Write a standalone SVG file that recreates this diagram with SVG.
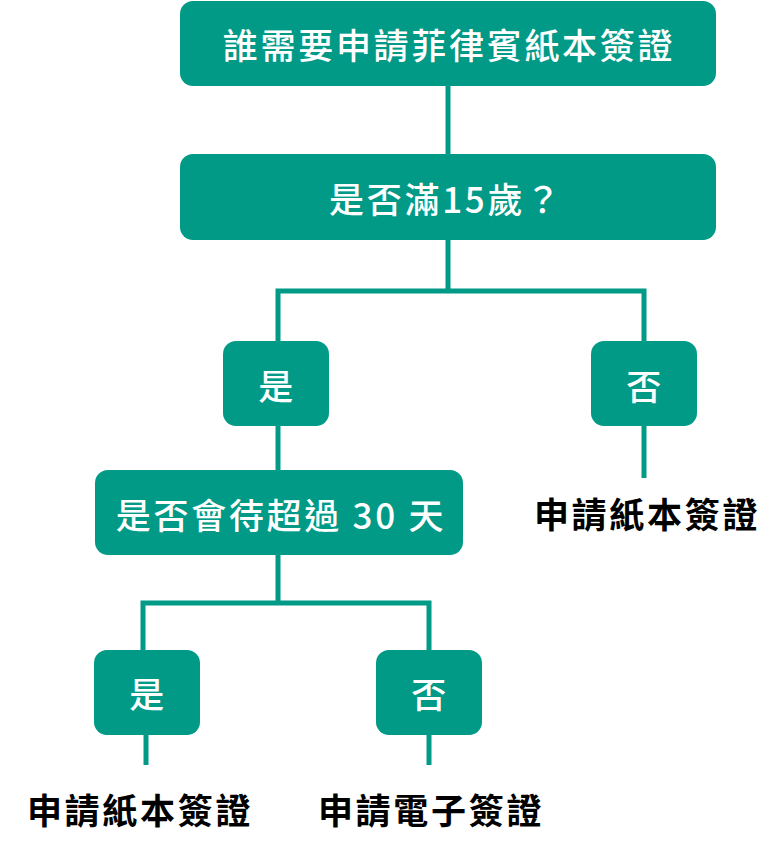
<svg xmlns="http://www.w3.org/2000/svg" width="782" height="855" viewBox="0 0 782 855">
<style>
.box{fill:#009A87}
.wt{fill:#fff;font-family:"Noto Sans CJK TC","Noto Sans CJK SC",sans-serif;font-size:35px;font-weight:500;text-anchor:middle;dominant-baseline:central;letter-spacing:2.7px}
.bt{fill:#000;font-family:"Noto Sans CJK TC","Noto Sans CJK SC",sans-serif;font-size:35px;font-weight:700;text-anchor:middle;dominant-baseline:central;letter-spacing:2.7px}
.ln{stroke:#009A87;stroke-width:5;fill:none}
</style>
<rect width="782" height="855" fill="#fff"/>
<g id="connectors">
<path class="ln" d="M448 86V154"/>
<path class="ln" d="M448 240V291M278 341V291H644V341"/>
<path class="ln" d="M278 426V470"/>
<path class="ln" d="M644 426V478"/>
<path class="ln" d="M278 555V603M143 650V603H429V650"/>
<path class="ln" d="M146 735V765"/>
<path class="ln" d="M429 735V765"/>
</g>
<g id="n1"><rect class="box" x="180" y="1" width="536" height="85" rx="13"/><text class="wt" x="449" y="43">誰需要申請菲律賓紙本簽證</text></g>
<g id="n2"><rect class="box" x="180" y="154" width="536" height="86" rx="13"/><text class="wt" x="446" y="197">是否滿15歲？</text></g>
<g id="n3"><rect class="box" x="223" y="341" width="106" height="85" rx="13"/><text class="wt" x="277" y="384">是</text></g>
<g id="n4"><rect class="box" x="591" y="341" width="106" height="85" rx="13"/><text class="wt" x="645" y="384">否</text></g>
<g id="n5"><rect class="box" x="95" y="470" width="368" height="85" rx="13"/><text class="wt" x="281" y="513">是否會待超過 30 天</text></g>
<g id="n6"><text class="bt" x="647" y="512">申請紙本簽證</text></g>
<g id="n7"><rect class="box" x="94" y="650" width="106" height="85" rx="13"/><text class="wt" x="148" y="692">是</text></g>
<g id="n8"><rect class="box" x="376" y="650" width="106" height="85" rx="13"/><text class="wt" x="430" y="692">否</text></g>
<g id="n9"><text class="bt" x="140" y="808">申請紙本簽證</text></g>
<g id="n10"><text class="bt" x="431" y="808">申請電子簽證</text></g>
</svg>
